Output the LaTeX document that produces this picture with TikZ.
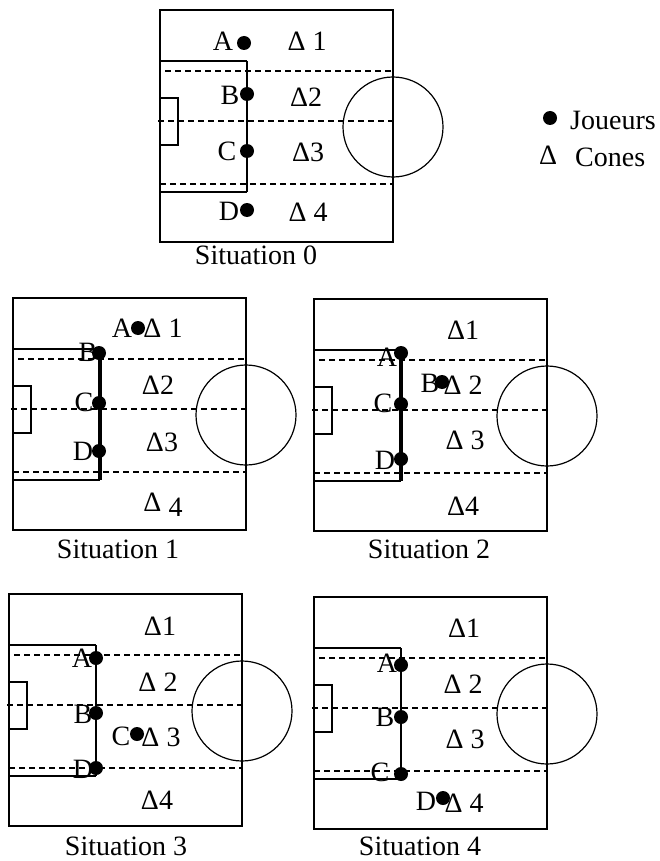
\documentclass[tikz,border=0pt]{standalone}
\usepackage{fontspec}
\setmainfont{Liberation Serif}
\usepackage{tikz}

\begin{document}
\begin{tikzpicture}
    [
    x=1pt, y=-1pt,
    font=\fontsize{28}{32}\selectfont,
    bord/.style={line width=1.6pt},
    surface/.style={line width=1.8pt},
    ligne/.style={line width=2.2pt,dash pattern=on 6pt off 4pt},
    rond/.style={line width=1.2pt},
    joueur/.style={circle,fill=black,inner sep=0pt,minimum size=14pt},
    nom/.style={inner sep=0pt},
    titre/.style={anchor=base,inner sep=0pt}
    ]
\useasboundingbox (0,0) rectangle (659,861);
\foreach \fx/\fy/\w/\r in {160/10/2.4/2.6, 13/298/1.8/3.2, 314/299/1.8/3.2, 9/594/1.8/1.8, 314/597/1.8/2.4}
{
\begin{scope}[shift={(\fx,\fy)}]
\draw[bord] (0,0) rectangle (233,232);
\draw[surface,line width=\w pt] (0,51) -- (87,51);
\draw[surface,line width=\w pt] (0,182) -- (87,182);
\draw[surface,line width=\r pt] (87,51) -- (87,182);
\draw[surface] (0,88) -| (18,135) -- (0,135);
\draw[ligne] (5,61) -- (233,61);
\draw[ligne] (-2,111) -- (233,111);
\draw[ligne] (0,174) -- (233,174);
\draw[rond] (233,117) circle (50pt);
\end{scope}
}
% situation 0
\node[joueur] (a0) at (244,43) {};
\node[joueur] (b0) at (247,94) {};
\node[joueur] (c0) at (247,151) {};
\node[joueur] (d0) at (247,210) {};
\node[nom] (na0) at (223,41) {A};
\node[nom] (nb0) at (230,95) {B};
\node[nom] (nc0) at (227,151) {C};
\node[nom] (nd0) at (229,211) {D};
\node[nom] (k10) at (307,41) {Δ 1};
\node[nom] (k20) at (306,97) {Δ2};
\node[nom] (k30) at (308,152) {Δ3};
\node[nom] (k40) at (308,212) {Δ 4};
\node[titre] (t0) at (256,264) {Situation 0};
% legende
\node[joueur] (lj) at (550,118) {};
\node[nom,anchor=base west] (ljt) at (570,130) {Joueurs};
\node[nom] (lc) at (548,155) {Δ};
\node[nom,anchor=base west] (lct) at (575,167) {Cones};
% situation 1
\node[joueur] (a1) at (138,328) {};
\node[joueur] (b1) at (99,353) {};
\node[joueur] (c1) at (99,403) {};
\node[joueur] (d1) at (99,451) {};
\node[nom] (na1) at (122,328) {A};
\node[nom] (nb1) at (88,352) {B};
\node[nom] (nc1) at (84,402) {C};
\node[nom] (nd1) at (83,451) {D};
\node[nom] (k11) at (163,328) {Δ 1};
\node[nom] (k21) at (158,385) {Δ2};
\node[nom] (k31) at (162,442) {Δ3};
\node[nom] (k41) at (163,505) {Δ \raisebox{-5pt}{4}};
\node[titre] (t1) at (118,558) {Situation 1};
% situation 2
\node[joueur] (a2) at (401,353) {};
\node[joueur] (b2) at (442,382) {};
\node[joueur] (c2) at (401,404) {};
\node[joueur] (d2) at (401,459) {};
\node[nom] (na2) at (387,357) {A};
\node[nom] (nb2) at (430,383) {B};
\node[nom] (nc2) at (383,403) {C};
\node[nom] (nd2) at (385,460) {D};
\node[nom] (k12) at (463,330) {Δ1};
\node[nom] (k22) at (463,385) {Δ 2};
\node[nom] (k32) at (465,440) {Δ 3};
\node[nom] (k42) at (463,506) {Δ4};
\node[titre] (t2) at (429,558) {Situation 2};
% situation 3
\node[joueur] (a3) at (96,658) {};
\node[joueur] (b3) at (96,713) {};
\node[joueur] (c3) at (137,734) {};
\node[joueur] (d3) at (96,768) {};
\node[nom] (na3) at (82,658) {A};
\node[nom] (nb3) at (83,714) {B};
\node[nom] (nc3) at (121,736) {C};
\node[nom] (nd3) at (83,769) {D};
\node[nom] (k13) at (160,626) {Δ1};
\node[nom] (k23) at (158,682) {Δ 2};
\node[nom] (k33) at (161,737) {Δ 3};
\node[nom] (k43) at (157,800) {Δ4};
\node[titre] (t3) at (126,855) {Situation 3};
% situation 4
\node[joueur] (a4) at (401,665) {};
\node[joueur] (b4) at (401,717) {};
\node[joueur] (c4) at (401,774) {};
\node[joueur] (d4) at (443,798) {};
\node[nom] (na4) at (387,663) {A};
\node[nom] (nb4) at (385,717) {B};
\node[nom] (nc4) at (380,772) {C};
\node[nom] (nd4) at (426,801) {D};
\node[nom] (k14) at (464,628) {Δ1};
\node[nom] (k24) at (463,684) {Δ 2};
\node[nom] (k34) at (465,739) {Δ 3};
\node[nom] (k44) at (464,803) {Δ 4};
\node[titre] (t4) at (420,855) {Situation 4};
\end{tikzpicture}
\end{document}
